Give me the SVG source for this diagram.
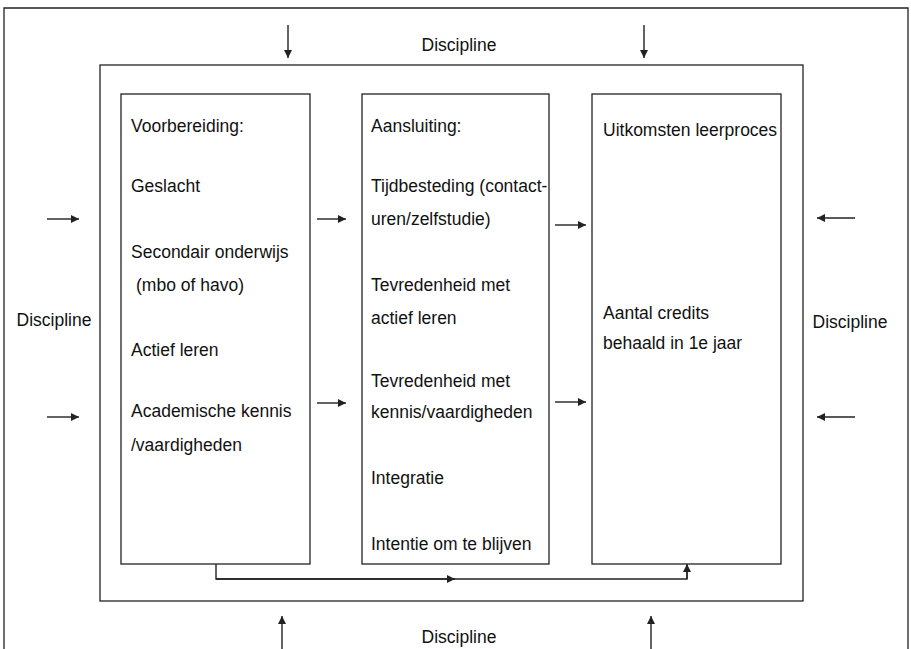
<svg xmlns="http://www.w3.org/2000/svg" width="911" height="649" viewBox="0 0 911 649">
<style>
text{font-family:"Liberation Sans",Arial,sans-serif;font-size:17.5px;fill:#111}
.c{text-anchor:middle}
.box{fill:none;stroke:#222;stroke-width:1.3}
.ln{fill:none;stroke:#222;stroke-width:1.4}
.ar{fill:none;stroke:#222;stroke-width:1.4;marker-end:url(#ah)}
</style>
<defs>
<marker id="ah" viewBox="0 0 10 10" refX="10" refY="5" markerWidth="10" markerHeight="8" markerUnits="userSpaceOnUse" orient="auto">
<path d="M0,0 L10,5 L0,10 Z" fill="#222"/>
</marker>
</defs>
<rect width="911" height="649" fill="#fff"/>
<g id="outer-frame">
<path class="box" d="M4,660 V8 H908 V660"/>
</g>
<g id="inner-frame">
<rect class="box" x="100" y="65" width="703" height="536"/>
</g>
<g id="labels-discipline">
<text class="c" x="459" y="51">Discipline</text>
<text class="c" x="54" y="326">Discipline</text>
<text class="c" x="850" y="328">Discipline</text>
<text class="c" x="459" y="643">Discipline</text>
</g>
<g id="box-voorbereiding">
<rect class="box" x="121" y="94" width="189" height="470"/>
<text x="131" y="132">Voorbereiding:</text>
<text x="131" y="192">Geslacht</text>
<text x="131" y="258">Secondair onderwijs</text>
<text x="136" y="291">(mbo of havo)</text>
<text x="131" y="356">Actief leren</text>
<text x="131" y="417">Academische kennis</text>
<text x="131" y="451">/vaardigheden</text>
</g>
<g id="box-aansluiting">
<rect class="box" x="362" y="94" width="187" height="470"/>
<text x="371" y="132">Aansluiting:</text>
<text x="371" y="192">Tijdbesteding (contact-</text>
<text x="371" y="225">uren/zelfstudie)</text>
<text x="371" y="291">Tevredenheid met</text>
<text x="371" y="324">actief leren</text>
<text x="371" y="387">Tevredenheid met</text>
<text x="371" y="418">kennis/vaardigheden</text>
<text x="371" y="484">Integratie</text>
<text x="371" y="550">Intentie om te blijven</text>
</g>
<g id="box-uitkomsten">
<rect class="box" x="592" y="94" width="189" height="470"/>
<text x="603" y="136">Uitkomsten leerproces</text>
<text x="603" y="319">Aantal credits</text>
<text x="603" y="349">behaald in 1e jaar</text>
</g>
<g id="connectors">
<path class="ar" d="M288,25 V58"/>
<path class="ar" d="M644,25 V58"/>
<path class="ar" d="M282,649 V616"/>
<path class="ar" d="M651,649 V616"/>
<path class="ar" d="M47,219 H79"/>
<path class="ar" d="M47,417 H79"/>
<path class="ar" d="M855,218 H817"/>
<path class="ar" d="M855,417 H817"/>
<path class="ar" d="M317,219 H346"/>
<path class="ar" d="M317,403 H346"/>
<path class="ar" d="M555,225 H586"/>
<path class="ar" d="M555,402 H586"/>
<path class="ln" d="M216,564 V579 H687 V565"/>
<path class="ar" d="M216,579 H455"/>
<path class="ar" d="M687,579 V564"/>
</g>
</svg>
